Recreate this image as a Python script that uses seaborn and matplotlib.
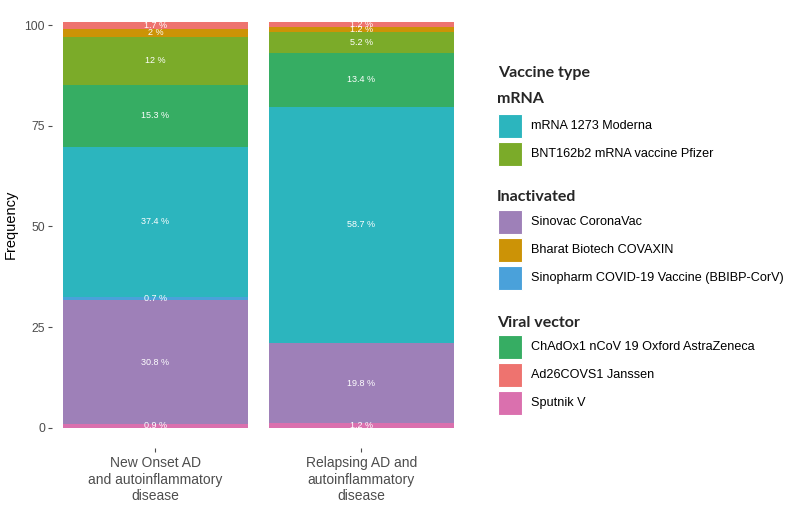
"""Stacked vaccine-type frequencies for new onset vs relapsing AD."""

import matplotlib
matplotlib.use("Agg")
import matplotlib.pyplot as plt
import numpy as np
import seaborn as sns
from matplotlib.patches import Rectangle

# --- data (percent of patients), stacking order bottom -> top ---
groups = [
    "New Onset AD\nand autoinflammatory\ndisease",
    "Relapsing AD and\nautoinflammatory\ndisease",
]
vaccines = [
    "Sputnik V",
    "Sinovac CoronaVac",
    "Sinopharm COVID-19 Vaccine (BBIBP-CorV)",
    "mRNA 1273 Moderna",
    "ChAdOx1 nCoV 19 Oxford AstraZeneca",
    "BNT162b2 mRNA vaccine Pfizer",
    "Bharat Biotech COVAXIN",
    "Ad26COVS1 Janssen",
]
new_onset = [0.9, 30.8, 0.7, 37.4, 15.3, 12.0, 2.0, 1.7]
relapsing = [1.2, 19.8, 0.0, 58.7, 13.4, 5.2, 1.2, 1.2]

colors = {
    "Sputnik V": "#DA70AE",
    "Sinovac CoronaVac": "#9E80B8",
    "Sinopharm COVID-19 Vaccine (BBIBP-CorV)": "#4AA1DA",
    "mRNA 1273 Moderna": "#2CB5BE",
    "ChAdOx1 nCoV 19 Oxford AstraZeneca": "#36AD63",
    "BNT162b2 mRNA vaccine Pfizer": "#7BAB29",
    "Bharat Biotech COVAXIN": "#CC9306",
    "Ad26COVS1 Janssen": "#EE736F",
}

legend_groups = [
    ("mRNA", ["mRNA 1273 Moderna", "BNT162b2 mRNA vaccine Pfizer"]),
    ("Inactivated", ["Sinovac CoronaVac", "Bharat Biotech COVAXIN",
                     "Sinopharm COVID-19 Vaccine (BBIBP-CorV)"]),
    ("Viral vector", ["ChAdOx1 nCoV 19 Oxford AstraZeneca",
                      "Ad26COVS1 Janssen", "Sputnik V"]),
]

sns.set_theme(style="white")
plt.rcParams["font.family"] = ["Liberation Sans", "DejaVu Sans"]

W, H = 787, 515
fig = plt.figure(figsize=(W / 100, H / 100), dpi=100)
ax = fig.add_axes([52 / W, 1 - 448 / H, (464 - 52) / W, (448 - 1.5) / H])

values = np.array([new_onset, relapsing])  # shape (group, vaccine)
tops = values.cumsum(axis=1)

# draw cumulative totals from the top layer down so each layer covers the rest
for k in range(len(vaccines) - 1, -1, -1):
    sns.barplot(
        x=groups, y=tops[:, k], order=groups, color=colors[vaccines[k]],
        saturation=1, width=0.9, errorbar=None, linewidth=0, ax=ax,
    )

for i in range(len(groups)):
    for k, v in enumerate(values[i]):
        if v <= 0:
            continue
        mid = tops[i, k] - v / 2
        ax.text(i, mid, f"{v:g} %", ha="center", va="center",
                color="white", fontsize=6.5)

top = tops[:, -1].max()
ax.set_ylim(-0.05 * top, top * 1.05)
ax.set_xlim(-0.503, 1.5)
ax.set_yticks([0, 25, 50, 75, 100])
ax.set_ylabel("Frequency", fontsize=10.5, color="black", labelpad=5)
ax.set_xlabel("")
for s in ax.spines.values():
    s.set_visible(False)
ax.tick_params(axis="y", labelsize=8.8, colors="#4D4D4D", length=3, width=0.8,
               left=True, pad=2)
ax.tick_params(axis="x", labelsize=10, colors="#4D4D4D", length=3, width=0.8,
               bottom=True, pad=3)
for lab in ax.get_xticklabels():
    lab.set_multialignment("center")

# --- legend, grouped by vaccine platform ---
def fx(px):
    return px / W

def fy(py):
    return 1 - py / H

fig.text(fx(498), fy(73), "Vaccine type", fontsize=11.5, fontweight="bold",
         family=["Lato", "DejaVu Sans"], va="center", ha="left")
heading_y = [99, 197, 323]
first_key_y = [126, 222, 347]
step = 28
for (head, items), hy, ky in zip(legend_groups, heading_y, first_key_y):
    fig.text(fx(497), fy(hy), head, fontsize=11.5, fontweight="bold",
             family=["Lato", "DejaVu Sans"], va="center", ha="left")
    for j, name in enumerate(items):
        cy = ky + j * step
        fig.add_artist(Rectangle((fx(498), fy(cy + 12)), 24 / W, 24 / H,
                                 transform=fig.transFigure,
                                 facecolor=colors[name], edgecolor="white",
                                 linewidth=0.8))
        fig.text(fx(531), fy(cy), name, fontsize=9.1, va="center", ha="left",
                 color="black")

fig.savefig("out.png", dpi=100)
